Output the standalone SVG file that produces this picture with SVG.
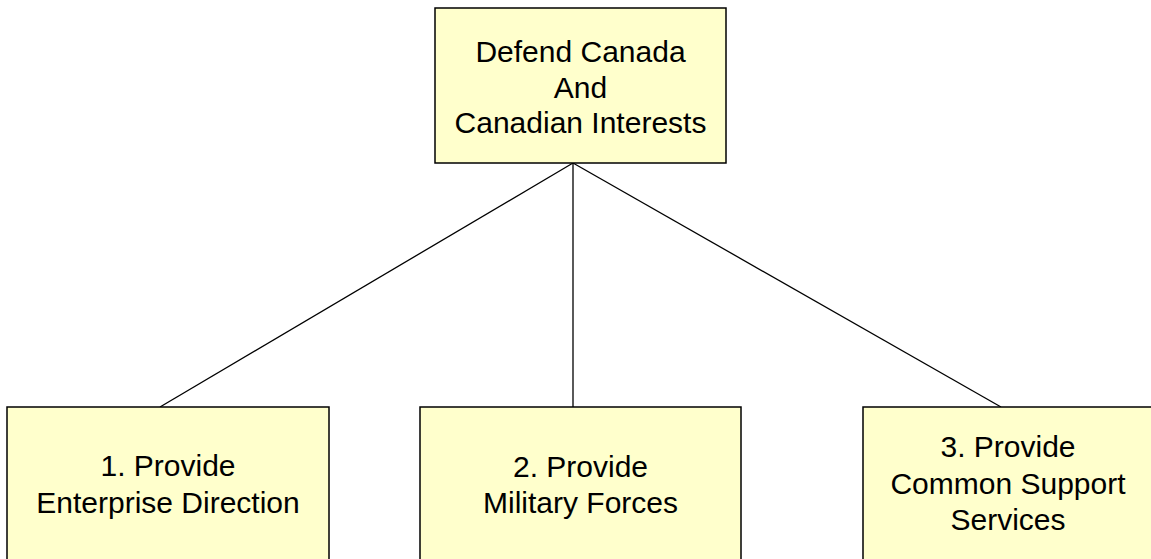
<svg xmlns="http://www.w3.org/2000/svg" width="1151" height="559" viewBox="0 0 1151 559">
<style>
.box{fill:#FFFFCC;stroke:#000;stroke-width:1.5}
.t{font-family:"Liberation Sans",Arial,sans-serif;font-size:30px;fill:#000;text-anchor:middle}
.c{stroke:#000;stroke-width:1.3;fill:none}
</style>
<rect width="1151" height="559" fill="#fff"/>
<g id="connectors">
<line class="c" x1="573" y1="163" x2="160" y2="407"/>
<line class="c" x1="573" y1="163" x2="573" y2="407"/>
<line class="c" x1="573" y1="163" x2="1001" y2="407"/>
</g>
<g id="root">
<rect class="box" x="435" y="8" width="291" height="155"/>
<text class="t" x="580.5" y="62">Defend Canada</text>
<text class="t" x="580.5" y="97.5">And</text>
<text class="t" x="580.5" y="133">Canadian Interests</text>
</g>
<g id="node1">
<rect class="box" x="7" y="407" width="322" height="170"/>
<text class="t" x="168" y="476">1. Provide</text>
<text class="t" x="168" y="513">Enterprise Direction</text>
</g>
<g id="node2">
<rect class="box" x="420" y="407" width="321" height="170"/>
<text class="t" x="580.5" y="477">2. Provide</text>
<text class="t" x="580.5" y="513">Military Forces</text>
</g>
<g id="node3">
<rect class="box" x="863" y="407" width="300" height="170"/>
<text class="t" x="1008" y="457">3. Provide</text>
<text class="t" x="1008" y="494">Common Support</text>
<text class="t" x="1008" y="530">Services</text>
</g>
</svg>
